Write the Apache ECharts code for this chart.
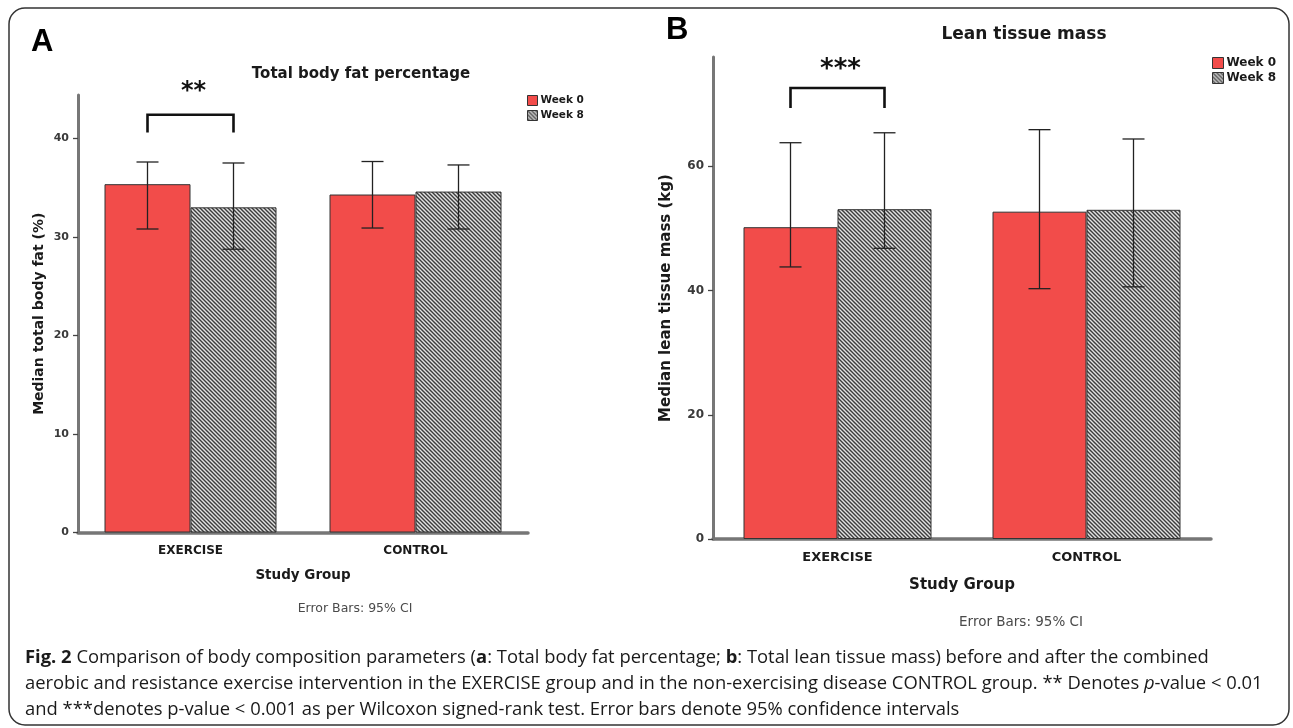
<!DOCTYPE html>
<html><head><meta charset="utf-8">
<script src="https://cdn.jsdelivr.net/npm/echarts@6/dist/echarts.min.js"></script>
<style>html,body{margin:0;padding:0;background:#fff}#c{width:1293px;height:728px}</style>
</head><body><div id="c"></div>
<script>
// ---------- data ----------
const categories = ['EXERCISE', 'CONTROL'];
const seriesNames = ['Week 0', 'Week 8'];
// Panel A: total body fat (%)
const fatWeek0 = [35.35, 34.3];
const fatWeek8 = [33.0, 34.6];
const fatWeek0CI = [[30.8, 37.6], [30.9, 37.65]];
const fatWeek8CI = [[28.75, 37.5], [30.8, 37.3]];
const fatTicks = [0, 10, 20, 30, 40];
// Panel B: lean tissue mass (kg)
const leanWeek0 = [50.2, 52.7];
const leanWeek8 = [53.1, 53.0];
const leanWeek0CI = [[43.8, 63.8], [40.3, 65.9]];
const leanWeek8CI = [[46.8, 65.4], [40.6, 64.4]];
const leanTicks = [0, 20, 40, 60];
// significance brackets: [category, bracketTop, legEnd, labelY]
const sigA = { label: '**', data: [[0, 42.4, 40.6, 44.7]] };
const sigB = { label: '***', data: [[0, 72.6, 69.4, 75.4]] };

// ---------- styling ----------
const FONT = 'DejaVu Sans';
const RED = '#F24C4A';
const BW_A = 86, BW_B = 94;

function hatch() {
  const c = document.createElement('canvas');
  c.width = 4; c.height = 4;
  const g = c.getContext('2d');
  g.fillStyle = '#e2e2e2'; g.fillRect(0, 0, 4, 4);
  g.strokeStyle = '#3c3c3c'; g.lineWidth = 1.4;
  g.beginPath();
  g.moveTo(-1, -1); g.lineTo(5, 5);
  g.moveTo(-1, 3); g.lineTo(1, 5);
  g.moveTo(3, -1); g.lineTo(5, 1);
  g.stroke();
  return { image: c, repeat: 'repeat' };
}
const HATCH = hatch();

function errRender(offset, cap) {
  return function (params, api) {
    const c = api.value(0);
    const x = api.coord([c, 0])[0] + offset;
    const lo = api.coord([c, api.value(1)])[1];
    const hi = api.coord([c, api.value(2)])[1];
    const s = { stroke: '#222', lineWidth: 1.3 };
    return { type: 'group', children: [
      { type: 'line', shape: { x1: x, y1: lo, x2: x, y2: hi }, style: s },
      { type: 'line', shape: { x1: x - cap / 2, y1: hi, x2: x + cap / 2, y2: hi }, style: s },
      { type: 'line', shape: { x1: x - cap / 2, y1: lo, x2: x + cap / 2, y2: lo }, style: s }
    ] };
  };
}
function sigRender(bw, label, fs) {
  return function (params, api) {
    const c = api.value(0);
    const xc = api.coord([c, 0])[0];
    const xL = xc - bw / 2, xR = xc + bw / 2;
    const yT = api.coord([c, api.value(1)])[1];
    const yL = api.coord([c, api.value(2)])[1];
    const yTx = api.coord([c, api.value(3)])[1];
    return { type: 'group', children: [
      { type: 'polyline', shape: { points: [[xL, yL], [xL, yT], [xR, yT], [xR, yL]] },
        style: { stroke: '#111', lineWidth: 2.6, fill: null } },
      { type: 'text', style: { x: xc + 3, y: yTx, text: label, align: 'center', verticalAlign: 'middle',
        font: 'bold ' + fs + 'px "' + FONT + '"', fill: '#111' } }
    ] };
  };
}
function ciData(ci) { return ci.map((v, i) => [i, v[0], v[1]]); }

function xAxis(grid, fs, nfs, gap) {
  return {
    type: 'category', gridIndex: grid, data: categories,
    name: 'Study Group', nameLocation: 'middle', nameGap: gap,
    nameTextStyle: { fontFamily: FONT, fontWeight: 'bold', fontSize: nfs, color: '#1a1a1a' },
    axisLine: { lineStyle: { color: '#767676', width: 3.5 } },
    axisTick: { alignWithLabel: true, length: 6, lineStyle: { color: '#333', width: 1.2 } },
    axisLabel: { margin: 12, fontFamily: FONT, fontWeight: 'bold', fontSize: fs, color: '#1a1a1a' }
  };
}
function yAxis(grid, max, ticks, name, fs, nfs, gap) {
  return {
    type: 'value', gridIndex: grid, min: 0, max: max, interval: ticks[1] - ticks[0],
    name: name, nameLocation: 'middle', nameRotate: 90, nameGap: gap,
    nameTextStyle: { fontFamily: FONT, fontWeight: 'bold', fontSize: nfs, color: '#1a1a1a' },
    splitLine: { show: false },
    axisLine: { show: true, lineStyle: { color: '#777', width: 3 } },
    axisTick: { show: true, length: 5, customValues: ticks, lineStyle: { color: '#444', width: 1.3 } },
    axisLabel: { margin: 9, customValues: ticks, fontFamily: FONT, fontWeight: 'bold', fontSize: fs, color: '#3a3a3a' }
  };
}
function legend(left, top, sz, fs, gap) {
  return {
    orient: 'vertical', left: left, top: top, padding: 0, itemWidth: sz, itemHeight: sz, itemGap: gap,
    data: seriesNames, icon: 'rect',
    itemStyle: { borderColor: '#333', borderWidth: 1 },
    textStyle: { fontFamily: FONT, fontWeight: 'bold', fontSize: fs, color: '#1a1a1a', padding: [0, 0, 0, -2] }
  };
}
function txt(x, y, text, font, fill, align) {
  return { type: 'text', x: x, y: y, silent: true,
    style: { text: text, font: font, fill: fill || '#1a1a1a', align: align || 'center', verticalAlign: 'middle' } };
}

const chart = echarts.init(document.getElementById('c'), null, { renderer: 'canvas' });
const CAP_FS = 18.4;
const capFont = CAP_FS + 'px "Open Sans"';
const capRich = {
  b: { fontFamily: 'Open Sans', fontWeight: 'bold', fontSize: CAP_FS, fill: '#1a1a1a' },
  i: { fontFamily: 'Open Sans', fontStyle: 'italic', fontSize: CAP_FS, fill: '#1a1a1a' }
};
function capLine(y, text) {
  return { type: 'text', x: 25, y: y, silent: true,
    style: { text: text, font: capFont, fill: '#1a1a1a', align: 'left', verticalAlign: 'middle', rich: capRich } };
}

chart.setOption({
  animation: false,
  backgroundColor: '#fff',
  grid: [
    { left: 78, top: 95, width: 450, height: 437.5 },
    { left: 713, top: 57, width: 498, height: 482 }
  ],
  xAxis: [xAxis(0, 12, 13.5, 36), xAxis(1, 13, 15, 39)],
  yAxis: [
    yAxis(0, 44.4, fatTicks, 'Median total body fat (%)', 11, 14, 32),
    yAxis(1, 77.6, leanTicks, 'Median lean tissue mass (kg)', 12, 15, 39)
  ],
  legend: [legend(527, 95, 10, 10.5, 4), legend(1212, 57, 11, 12, 3)],
  series: [
    { name: seriesNames[0], type: 'bar', xAxisIndex: 0, yAxisIndex: 0, data: fatWeek0, barWidth: BW_A, barGap: '0%',
      itemStyle: { color: RED, borderColor: '#333', borderWidth: 1 } },
    { name: seriesNames[1], type: 'bar', xAxisIndex: 0, yAxisIndex: 0, data: fatWeek8, barWidth: BW_A, barGap: '0%',
      itemStyle: { color: HATCH, borderColor: '#333', borderWidth: 1 } },
    { name: seriesNames[0], type: 'bar', xAxisIndex: 1, yAxisIndex: 1, data: leanWeek0, barWidth: BW_B, barGap: '0%',
      itemStyle: { color: RED, borderColor: '#333', borderWidth: 1 } },
    { name: seriesNames[1], type: 'bar', xAxisIndex: 1, yAxisIndex: 1, data: leanWeek8, barWidth: BW_B, barGap: '0%',
      itemStyle: { color: HATCH, borderColor: '#333', borderWidth: 1 } },
    { type: 'custom', xAxisIndex: 0, yAxisIndex: 0, z: 5, data: ciData(fatWeek0CI), encode: { x: 0, y: [1, 2] }, renderItem: errRender(-BW_A / 2, 22) },
    { type: 'custom', xAxisIndex: 0, yAxisIndex: 0, z: 5, data: ciData(fatWeek8CI), encode: { x: 0, y: [1, 2] }, renderItem: errRender(BW_A / 2, 22) },
    { type: 'custom', xAxisIndex: 1, yAxisIndex: 1, z: 5, data: ciData(leanWeek0CI), encode: { x: 0, y: [1, 2] }, renderItem: errRender(-BW_B / 2, 22) },
    { type: 'custom', xAxisIndex: 1, yAxisIndex: 1, z: 5, data: ciData(leanWeek8CI), encode: { x: 0, y: [1, 2] }, renderItem: errRender(BW_B / 2, 22) },
    { type: 'custom', xAxisIndex: 0, yAxisIndex: 0, z: 6, data: sigA.data, encode: { x: 0, y: [1, 2, 3] }, renderItem: sigRender(BW_A, sigA.label, 24) },
    { type: 'custom', xAxisIndex: 1, yAxisIndex: 1, z: 6, data: sigB.data, encode: { x: 0, y: [1, 2, 3] }, renderItem: sigRender(BW_B, sigB.label, 26) }
  ],
  graphic: [
    { type: 'rect', silent: true, shape: { x: 9, y: 8, width: 1280, height: 717, r: 16 },
      style: { fill: null, stroke: '#333', lineWidth: 1.5 } },
    txt(31, 42, 'A', 'bold 31px "Liberation Sans"', '#000', 'left'),
    txt(666, 30, 'B', 'bold 31px "Liberation Sans"', '#000', 'left'),
    txt(361, 74, 'Total body fat percentage', 'bold 15px "' + FONT + '"'),
    txt(1024, 35, 'Lean tissue mass', 'bold 17px "' + FONT + '"'),
    txt(355, 609, 'Error Bars: 95% CI', '12.5px "' + FONT + '"', '#4a4a4a'),
    txt(1021, 622, 'Error Bars: 95% CI', '13.5px "' + FONT + '"', '#4a4a4a'),
    capLine(658, '{b|Fig. 2} Comparison of body composition parameters ({b|a}: Total body fat percentage; {b|b}: Total lean tissue mass) before and after the combined'),
    capLine(684, 'aerobic and resistance exercise intervention in the EXERCISE group and in the non-exercising disease CONTROL group. ** Denotes {i|p}-value < 0.01'),
    capLine(710, 'and ***denotes p-value < 0.001 as per Wilcoxon signed-rank test. Error bars denote 95% confidence intervals')
  ]
});
</script></body></html>
